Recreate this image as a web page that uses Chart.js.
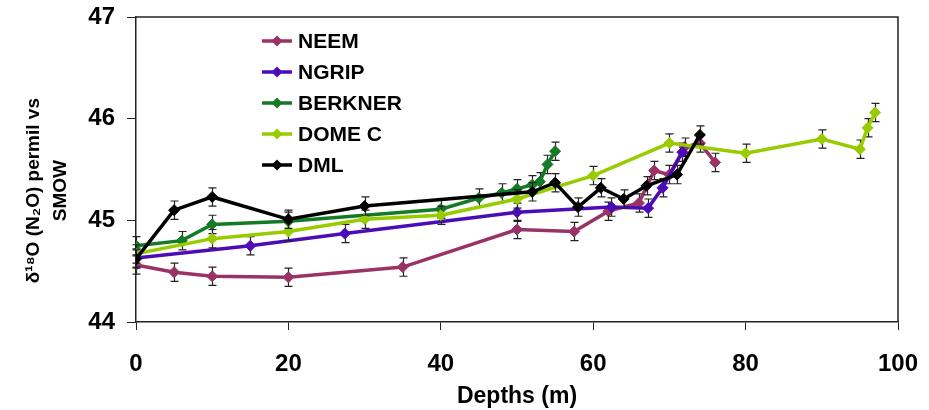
<!DOCTYPE html>
<html>
<head>
<meta charset="utf-8">
<script src="https://cdn.jsdelivr.net/npm/chart.js@4.4.1/dist/chart.umd.min.js"></script>
<style>
  html, body { margin: 0; padding: 0; background: #fff; }
</style>
</head>
<body>
<canvas id="chart" width="929" height="410"></canvas>
<script>
// depths (m) and d18O values
const neemDepth = [0, 5, 10, 20, 35, 50, 57.5, 62, 66, 68, 70, 72, 74, 76]
const neemValue = [44.56, 44.49, 44.45, 44.44, 44.54, 44.91, 44.89, 45.09, 45.17, 45.49, 45.45, 45.72, 45.76, 45.57]

const ngripDepth = [0, 15, 27.4, 50, 62.4, 67.2, 69.1, 71.7]
const ngripValue = [44.63, 44.75, 44.87, 45.08, 45.13, 45.12, 45.32, 45.67]

const berknerDepth = [0, 6, 10, 20, 40, 45, 48, 50, 52, 53, 54, 55]
const berknerValue = [44.75, 44.80, 44.96, 44.99, 45.11, 45.22, 45.27, 45.31, 45.35, 45.38, 45.55, 45.68]

const domecDepth = [0, 10, 20, 30, 40, 50, 60, 70, 80, 90, 95, 96, 97]
const domecValue = [44.67, 44.82, 44.89, 45.01, 45.05, 45.21, 45.44, 45.76, 45.66, 45.80, 45.70, 45.91, 46.06]

const dmlDepth = [0, 5, 10, 20, 30, 52, 55, 58, 61, 64, 67, 71, 74]
const dmlValue = [44.62, 45.10, 45.23, 45.01, 45.14, 45.28, 45.37, 45.13, 45.32, 45.21, 45.34, 45.45, 45.84]

// half length of the error bars (permil)
const errHalf = 0.09

const xTicks = [0, 20, 40, 60, 80, 100]
const yTicks = [44, 45, 46, 47]

const font = 'Liberation Sans, Arial, sans-serif'

function makeSet(label, depth, value, color, order) {
    return {
        label: label,
        data: depth.map((d, i) => ({x: d, y: value[i]})),
        borderColor: color,
        backgroundColor: color,
        borderWidth: 3.5,
        pointStyle: 'rectRot',
        pointRadius: 5.5,
        pointBorderWidth: 1,
        pointBorderColor: color,
        pointBackgroundColor: color,
        tension: 0,
        order: order,
        err: errHalf
    }
}

//error bars under each series
const errorBars = {
    id: 'errorBars',
    beforeDatasetDraw(chart, args) {
        let ds = chart.data.datasets[args.index]
        let xs = chart.scales.x, ys = chart.scales.y
        let ctx = chart.ctx
        ctx.save()
        ctx.strokeStyle = '#222'
        ctx.lineWidth = 1.2
        ds.data.forEach(p => {
            let px = Math.round(xs.getPixelForValue(p.x)) + 0.5
            let t = ys.getPixelForValue(p.y + ds.err)
            let b = ys.getPixelForValue(p.y - ds.err)
            ctx.beginPath()
            ctx.moveTo(px, t); ctx.lineTo(px, b)
            ctx.moveTo(px - 4, t); ctx.lineTo(px + 4, t)
            ctx.moveTo(px - 4, b); ctx.lineTo(px + 4, b)
            ctx.stroke()
        })
        ctx.restore()
    }
}

//frame + legend inside plot
const frameLegend = {
    id: 'frameLegend',
    afterDraw(chart) {
        let ctx = chart.ctx
        let a = chart.chartArea
        ctx.save()
        ctx.strokeStyle = '#222'
        ctx.lineWidth = 1.5
        ctx.beginPath()
        ctx.moveTo(a.left, a.top); ctx.lineTo(a.right, a.top); ctx.lineTo(a.right, a.bottom)
        ctx.stroke()

        let x0 = a.left + 126, y0 = a.top + 24, step = 31
        ctx.font = 'bold 21px ' + font
        ctx.textBaseline = 'middle'
        ctx.textAlign = 'left'
        chart.data.datasets.forEach((ds, i) => {
            let y = y0 + i * step
            ctx.strokeStyle = ds.borderColor
            ctx.lineWidth = 3.5
            ctx.beginPath()
            ctx.moveTo(x0, y); ctx.lineTo(x0 + 30, y)
            ctx.stroke()
            ctx.fillStyle = ds.borderColor
            ctx.beginPath()
            ctx.moveTo(x0 + 15, y - 5.5); ctx.lineTo(x0 + 20.5, y)
            ctx.lineTo(x0 + 15, y + 5.5); ctx.lineTo(x0 + 9.5, y)
            ctx.closePath()
            ctx.fill()
            ctx.fillStyle = '#000'
            ctx.fillText(ds.label, x0 + 36, y + 1)
        })
        ctx.restore()
    }
}

let chart = new Chart(document.getElementById('chart').getContext('2d'), {
    type: 'line',
    data: {
        datasets: [
            makeSet('NEEM', neemDepth, neemValue, '#993366', 5),
            makeSet('NGRIP', ngripDepth, ngripValue, '#4B0CB8', 4),
            makeSet('BERKNER', berknerDepth, berknerValue, '#137A25', 3),
            makeSet('DOME C', domecDepth, domecValue, '#99CC00', 2),
            makeSet('DML', dmlDepth, dmlValue, '#000000', 1)
        ]
    },
    options: {
        responsive: false,
        animation: false,
        layout: {padding: {top: 17, right: 31, left: 0, bottom: 0}},
        plugins: {legend: {display: false}, tooltip: {enabled: false}},
        scales: {
            x: {
                type: 'linear',
                min: 0, max: 100,
                afterFit: s => { s.height = 88; s.paddingLeft = 0; s.paddingRight = 0 },
                afterBuildTicks: s => { s.ticks = xTicks.map(v => ({value: v})) },
                grid: {drawOnChartArea: false, tickLength: 8, color: '#222', tickWidth: 1},
                border: {color: '#222', width: 1.5},
                ticks: {color: '#000', padding: 20, font: {family: font, weight: 'bold', size: 24}, maxRotation: 0},
                title: {
                    display: true, text: 'Depths (m)', color: '#000',
                    font: {family: font, weight: 'bold', size: 23},
                    padding: {top: 0, bottom: 0}
                }
            },
            y: {
                min: 44, max: 47,
                afterFit: s => { s.width = 136; s.paddingTop = 0; s.paddingBottom = 0 },
                afterBuildTicks: s => { s.ticks = yTicks.map(v => ({value: v})) },
                grid: {drawOnChartArea: false, tickLength: 9, color: '#222', tickWidth: 1},
                border: {color: '#222', width: 1.5},
                ticks: {color: '#000', padding: 12, font: {family: font, weight: 'bold', size: 24}},
                title: {
                    display: true,
                    text: ['\u03B4\u00B9\u2078O (N\u2082O) permil vs        ', 'SMOW        '],
                    color: '#000',
                    font: {family: font, weight: 'bold', size: 19, lineHeight: 1.42},
                    padding: {top: 20, bottom: 0}
                }
            }
        }
    },
    plugins: [errorBars, frameLegend]
})
</script>
</body>
</html>
